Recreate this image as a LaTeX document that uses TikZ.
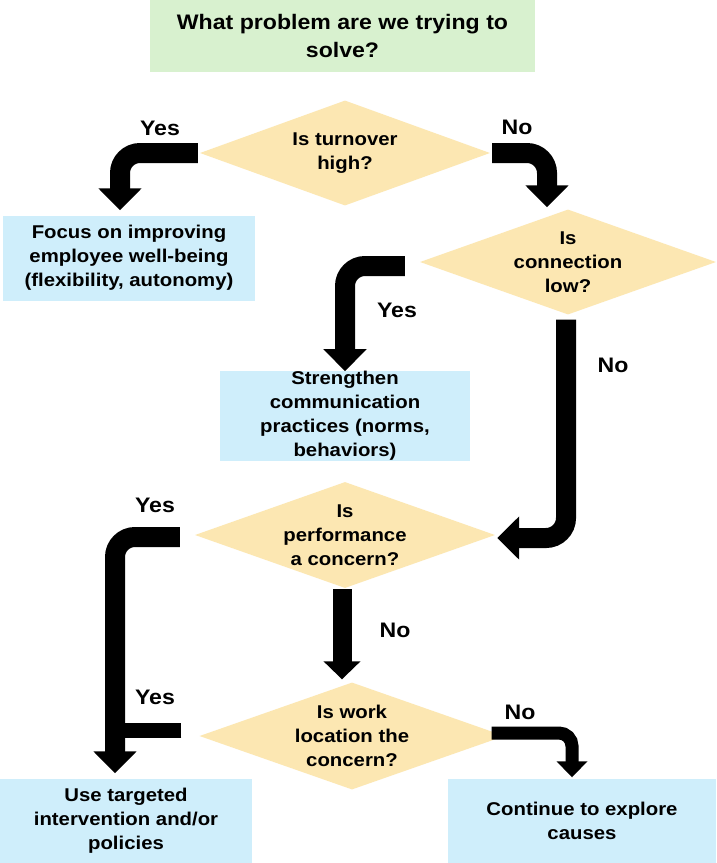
\documentclass[tikz,border=0pt]{standalone}
\usepackage{fontspec}
\setmainfont{Liberation Sans}[FakeStretch=1.1]
\usetikzlibrary{shapes.geometric,arrows.meta,calc}
\definecolor{hdrgreen}{HTML}{D8F1CF}
\definecolor{boxblue}{HTML}{CFEEFB}
\definecolor{dmdyellow}{HTML}{FCE7B2}
\tikzset{
  txt/.style={font=\bfseries\fontsize{18.5}{24}\selectfont, align=center, text=black},
  hdr/.style={txt, font=\bfseries\fontsize{21}{28}\selectfont, fill=hdrgreen, minimum width=385pt, minimum height=72pt, inner sep=0pt},
  actbox/.style={txt, fill=boxblue, inner sep=0pt},
  dmd/.style={txt, diamond, fill=dmdyellow, aspect=2.8, inner sep=0pt},
  lbl/.style={font=\bfseries\fontsize{21}{24}\selectfont, text=black},
  bigarrow/.style={line width=20pt, black, rounded corners=20pt, -{Triangle[width=42pt,length=22pt]}},
  midarrow/.style={line width=19pt, black, -{Triangle[width=36pt,length=18pt]}},
  smallarrow/.style={line width=13pt, black, rounded corners=13pt, -{Triangle[width=30pt,length=16pt]}},
  bar/.style={line width=15pt, black},
}
\begin{document}
\begin{tikzpicture}[x=1pt,y=-1pt]
\useasboundingbox (0,0) rectangle (716,863);
\fill[white] (0,0) rectangle (716,863);

\node[hdr] (top) at (342.5,36) {What problem are we trying to\\solve?};

\node[dmd, minimum width=290pt, minimum height=105pt] (d1) at (345,153) {Is turnover\\high?};
\node[actbox, minimum width=252pt, minimum height=85pt] (focus) at (129,258) {Focus on improving\\employee well-being\\(flexibility, autonomy)};
\node[dmd, minimum width=296pt, minimum height=105pt] (d2) at (568,262) {Is\\connection\\low?};
\node[actbox, minimum width=250pt, minimum height=85pt] (strength) at (345,416) {Strengthen\\communication\\practices (norms,\\behaviors)};
\node[dmd, minimum width=300pt, minimum height=106pt] (d3) at (345,535) {Is\\performance\\a concern?};
\node[dmd, minimum width=305pt, minimum height=107pt] (d4) at (352,736) {Is work\\location the\\concern?};
\node[actbox, minimum width=252pt, minimum height=85pt] (target) at (126,821) {Use targeted\\intervention and/or\\policies};
\node[actbox, minimum width=268pt, minimum height=85pt] (cont) at (582,821) {Continue to explore\\causes};

% connectors
\draw[bigarrow] ([xshift=-2pt]d1.west) -| ([xshift=-9pt,yshift=5pt]focus.north);
\draw[bigarrow] ([xshift=2pt]d1.east) -| ([xshift=-21pt,yshift=2pt]d2.north);
\draw[bigarrow] ([xshift=-15pt,yshift=-4pt]d2.west) -| (strength.north);
\draw[bigarrow] ([xshift=-2pt,yshift=-5pt]d2.south) |- ([xshift=2pt,yshift=-3pt]d3.east);
\coordinate (j) at ([xshift=-11pt]target.north);
\draw[bigarrow] ([xshift=-15pt,yshift=-2pt]d3.west) -| ([yshift=5pt]j);
\draw[bar] ([xshift=-18pt,yshift=6pt]d4.west) -- ([xshift=-10pt,yshift=6pt]d4.west -| j);
\draw[midarrow] ([xshift=-3pt,yshift=-1pt]d3.south) -- ([xshift=-10pt,yshift=3pt]d4.north);
\draw[smallarrow] ([xshift=-13pt,yshift=3pt]d4.east) -| ([xshift=-10pt,yshift=1pt]cont.north);

% labels
\node[lbl] (y1) at (160,128) {Yes};
\node[lbl] (n1) at (517,127) {No};
\node[lbl] (y2) at (397,310) {Yes};
\node[lbl] (n2) at (613,365) {No};
\node[lbl] (y3) at (155,505) {Yes};
\node[lbl] (n3) at (395,630) {No};
\node[lbl] (y4) at (155,697) {Yes};
\node[lbl] (n4) at (520,712) {No};
\end{tikzpicture}
\end{document}
